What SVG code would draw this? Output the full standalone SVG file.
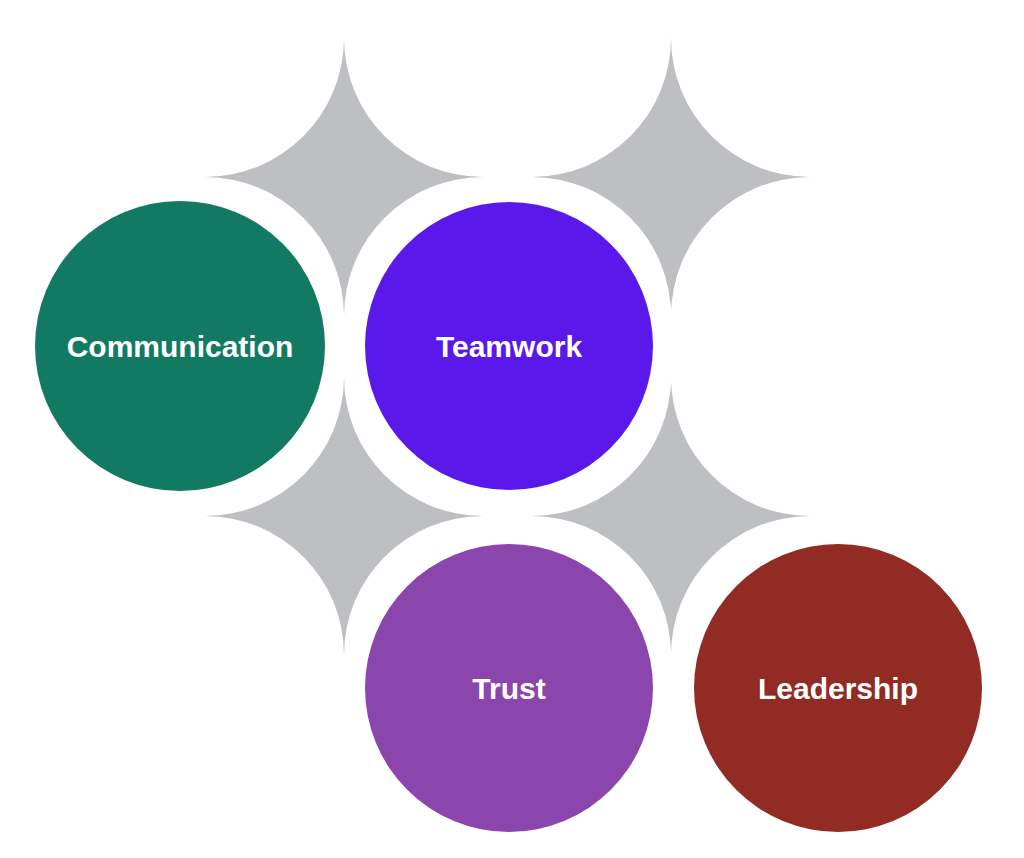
<svg xmlns="http://www.w3.org/2000/svg" width="1024" height="858" viewBox="0 0 1024 858">
<defs>
<style>
.star{fill:#BEBFC3}
.ring{fill:#FFFFFF}
.lbl{font-family:"Liberation Sans",Arial,sans-serif;font-weight:bold;font-size:30px;fill:#FFFFFF;text-anchor:middle}
</style>
<path id="starShape" d="M0,-139 A139,139 0 0 0 139,0 A139,139 0 0 0 0,139 A139,139 0 0 0 -139,0 A139,139 0 0 0 0,-139 Z"/>
</defs>
<rect width="1024" height="858" fill="#FFFFFF"/>
<g id="stars">
<use href="#starShape" class="star" transform="translate(344,177)"/>
<use href="#starShape" class="star" transform="translate(671,177)"/>
<use href="#starShape" class="star" transform="translate(344,516)"/>
<use href="#starShape" class="star" transform="translate(671,516)"/>
</g>
<g id="connectors"></g>
<g id="node-communication">
<circle class="ring" cx="180" cy="346" r="167"/>
<circle cx="180" cy="346" r="145" fill="#127A63"/>
<text class="lbl" x="180" y="357">Communication</text>
</g>
<g id="node-teamwork">
<circle class="ring" cx="509" cy="346" r="167"/>
<circle cx="509" cy="346" r="144" fill="#5B18EB"/>
<text class="lbl" x="509" y="357">Teamwork</text>
</g>
<g id="node-trust">
<circle class="ring" cx="509" cy="688" r="167"/>
<circle cx="509" cy="688" r="144" fill="#8B46AD"/>
<text class="lbl" x="509" y="699">Trust</text>
</g>
<g id="node-leadership">
<circle class="ring" cx="838" cy="688" r="167"/>
<circle cx="838" cy="688" r="144" fill="#912B23"/>
<text class="lbl" x="838" y="699">Leadership</text>
</g>
</svg>
